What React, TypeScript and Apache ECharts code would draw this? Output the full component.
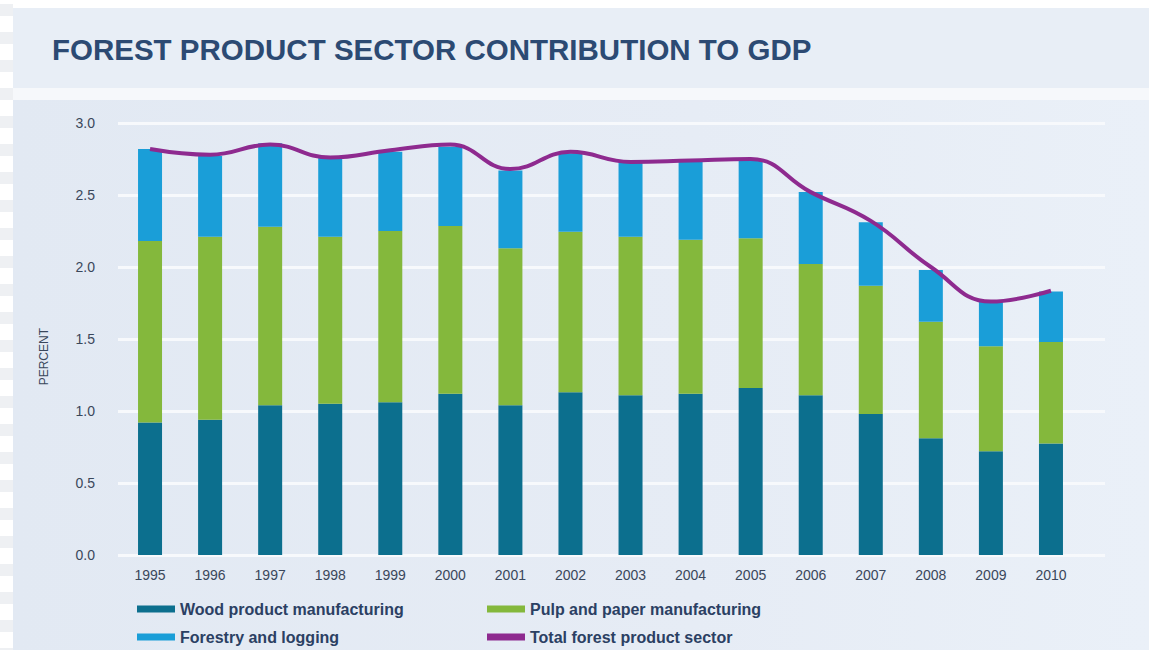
import React, { useEffect, useRef } from "react";
import * as echarts from "echarts";

const years = ["1995", "1996", "1997", "1998", "1999", "2000", "2001", "2002", "2003", "2004", "2005", "2006", "2007", "2008", "2009", "2010"];
const woodProduct = [0.92, 0.94, 1.04, 1.05, 1.06, 1.12, 1.04, 1.13, 1.11, 1.12, 1.16, 1.11, 0.98, 0.81, 0.72, 0.775];
const pulpPaper = [1.26, 1.27, 1.24, 1.16, 1.19, 1.165, 1.09, 1.115, 1.1, 1.07, 1.04, 0.91, 0.89, 0.81, 0.73, 0.705];
const forestryLogging = [0.64, 0.56, 0.58, 0.56, 0.55, 0.55, 0.54, 0.545, 0.52, 0.54, 0.54, 0.5, 0.44, 0.36, 0.31, 0.35];
const totalSector = [2.82, 2.78, 2.85, 2.76, 2.81, 2.85, 2.68, 2.8, 2.73, 2.74, 2.75, 2.52, 2.32, 2.0, 1.76, 1.835];

const FONT = "'Liberation Sans', Arial, sans-serif";
const LABEL = "#3a475b";
const LEG = "#2b4063";

export default function App() {
  const ref = useRef<HTMLDivElement>(null);
  useEffect(() => {
    if (!ref.current) return;
    const chart = echarts.init(ref.current, null, { renderer: "svg" });
    const legendText = { fontSize: 16, fontWeight: "bold", color: LEG, fontFamily: FONT };
    chart.setOption({
      animation: false,
      backgroundColor: "transparent",
      title: {
        text: "FOREST PRODUCT SECTOR CONTRIBUTION TO GDP",
        left: 47,
        top: 29,
        textStyle: { fontSize: 29.5, fontWeight: "bold", color: "#2c4a73", fontFamily: FONT },
      },
      graphic: [
        {
          type: "text",
          left: 38,
          top: 328,
          rotation: Math.PI / 2,
          style: { text: "PERCENT", fontSize: 12, fill: LABEL, fontFamily: FONT },
        },
      ],
      legend: [
        {
          data: ["Wood product manufacturing", "Forestry and logging"],
          orient: "vertical",
          left: 132,
          top: 596,
          itemWidth: 38,
          itemHeight: 7,
          itemGap: 12,
          icon: "rect",
          textStyle: legendText,
        },
        {
          data: ["Pulp and paper manufacturing", "Total forest product sector"],
          orient: "vertical",
          left: 482,
          top: 596,
          itemWidth: 38,
          itemHeight: 7,
          itemGap: 12,
          icon: "rect",
          textStyle: legendText,
        },
      ],
      grid: [
        { left: 120, width: 961, top: 123, bottom: 95 },
        { left: 118, right: 44, top: 123, bottom: 95 },
      ],
      xAxis: [
        {
          type: "category",
          gridIndex: 0,
          data: years,
          axisLine: { show: false },
          axisTick: { show: false },
          axisLabel: { fontSize: 14, color: LABEL, fontFamily: FONT, margin: 13 },
        },
        { type: "value", gridIndex: 1, show: false, min: 0, max: 1 },
      ],
      yAxis: [
        {
          type: "value",
          gridIndex: 0,
          min: 0,
          max: 3,
          interval: 0.5,
          axisLine: { show: false },
          axisTick: { show: false },
          splitLine: { show: false },
          axisLabel: {
            fontSize: 14,
            color: LABEL,
            fontFamily: FONT,
            margin: 25,
            formatter: (v: number) => v.toFixed(1),
          },
        },
        {
          type: "value",
          gridIndex: 1,
          min: 0,
          max: 3,
          interval: 0.5,
          axisLine: { show: false },
          axisTick: { show: false },
          axisLabel: { show: false },
          splitLine: { show: true, lineStyle: { color: "#f7f9fc", width: 3 } },
        },
      ],
      series: [
        {
          name: "Wood product manufacturing",
          type: "bar",
          stack: "s",
          barWidth: 24,
          data: woodProduct,
          itemStyle: { color: "#0c6f8e" },
        },
        {
          name: "Pulp and paper manufacturing",
          type: "bar",
          stack: "s",
          barWidth: 24,
          data: pulpPaper,
          itemStyle: { color: "#84b83c" },
        },
        {
          name: "Forestry and logging",
          type: "bar",
          stack: "s",
          barWidth: 24,
          data: forestryLogging,
          itemStyle: { color: "#1a9ed8" },
        },
        {
          name: "Total forest product sector",
          type: "line",
          data: totalSector,
          smooth: 0.45,
          showSymbol: false,
          symbol: "none",
          z: 5,
          itemStyle: { color: "#8e2a8f" },
          lineStyle: { color: "#8e2a8f", width: 4 },
        },
      ],
    });
    return () => chart.dispose();
  }, []);

  const stripes = [];
  for (let i = 0; i < 24; i++) {
    stripes.push(
      <div
        key={i}
        style={{ position: "absolute", left: 0, top: 4 + i * 28, width: 13, height: 12, background: "#eef0f3" }}
      />
    );
  }

  return (
    <div style={{ position: "fixed", left: 0, top: 0, width: 1149, height: 650, background: "#ffffff", overflow: "hidden" }}>
      {stripes}
      <div style={{ position: "absolute", left: 13, top: 8, width: 1136, height: 80, background: "#e8eef6" }} />
      <div style={{ position: "absolute", left: 13, top: 88, width: 1136, height: 12, background: "#f6f8fb" }} />
      <div
        style={{
          position: "absolute",
          left: 13,
          top: 100,
          width: 1136,
          height: 550,
          background: "linear-gradient(90deg, #e2e9f3 0%, #e6ecf5 60%, #eaf0f8 100%)",
        }}
      />
      <div ref={ref} style={{ position: "absolute", left: 0, top: 0, width: 1149, height: 650 }} />
    </div>
  );
}
